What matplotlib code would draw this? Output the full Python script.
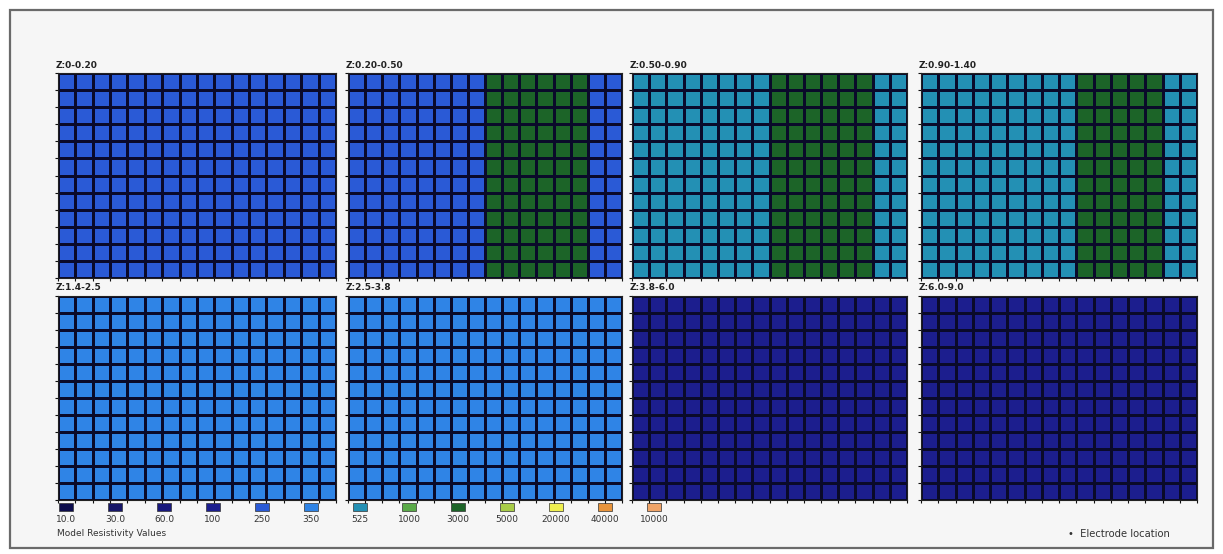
import numpy as np
import matplotlib
matplotlib.use("Agg")
import matplotlib.pyplot as plt
from matplotlib.colors import ListedColormap, BoundaryNorm
from matplotlib.patches import Rectangle

# ---- data ----
legend_labels = ["10.0", "30.0", "60.0", "100", "250", "350", "525",
                 "1000", "3000", "5000", "20000", "40000", "10000"]
legend_colors = ["#0c0c4c", "#161668", "#18187c", "#1c1e8e", "#2a5ad6", "#2f84e6",
                 "#2390b4", "#5aaa48", "#1c6428", "#a8cc48", "#f0f050", "#e8943c", "#f0a468"]

panel_titles = ["Z:0-0.20", "Z:0.20-0.50", "Z:0.50-0.90", "Z:0.90-1.40",
                "Z:1.4-2.5", "Z:2.5-3.8", "Z:3.8-6.0", "Z:6.0-9.0"]

n_rows = 12
# resistivity of each of the 16 columns, per depth slice
col_z1 = ["250"] * 16
col_z2 = ["250"] * 8 + ["3000"] * 6 + ["250"] * 2
col_z3 = ["525"] * 8 + ["3000"] * 6 + ["525"] * 2
col_z4 = ["525"] * 9 + ["3000"] * 5 + ["525"] * 2
col_z5 = ["350"] * 16
col_z6 = ["350"] * 16
col_z7 = ["100"] * 16
col_z8 = ["100"] * 16
panel_columns = [col_z1, col_z2, col_z3, col_z4, col_z5, col_z6, col_z7, col_z8]

# ---- figure ----
W, H = 1223, 554
fig = plt.figure(figsize=(W / 100, H / 100), dpi=100, facecolor="white")

# outer frame
fig.patches.append(Rectangle((10 / W, 1 - 548 / H), 1203 / W, 538 / H,
                             transform=fig.transFigure, facecolor="#f6f6f6",
                             edgecolor="#6a6a6a", linewidth=1.6, zorder=-5))

cmap = ListedColormap(legend_colors)
norm = BoundaryNorm(np.arange(-0.5, len(legend_colors) + 0.5), len(legend_colors))

xs = [(58, 336), (348, 622), (632, 907), (921, 1197)]
ys = [(73, 278), (296, 500)]

for k, cols in enumerate(panel_columns):
    r, c = divmod(k, 4)
    x0, x1 = xs[c]
    y0, y1 = ys[r]
    ax = fig.add_axes([x0 / W, 1 - y1 / H, (x1 - x0) / W, (y1 - y0) / H], zorder=2)
    idx = np.array([legend_labels.index(v) for v in cols])
    grid = np.tile(idx, (n_rows, 1))
    ax.pcolormesh(np.arange(len(cols) + 1), np.arange(n_rows + 1), grid,
                  cmap=cmap, norm=norm, edgecolors="#0a0a2a", linewidth=0.9)
    ax.set_xlim(0, len(cols))
    ax.set_ylim(0, n_rows)
    ax.set_xticks(np.arange(len(cols) + 1))
    ax.set_yticks(np.arange(n_rows + 1))
    ax.tick_params(length=2, width=0.8, color="#111111", labelbottom=False,
                   labelleft=False, direction="out")
    for s in ax.spines.values():
        s.set_color("#222222")
        s.set_linewidth(0.8)
    fig.text(x0 / W - 2 / W, 1 - (y0 - 8) / H, panel_titles[k], fontsize=6.5,
             color="#222222", ha="left", va="center", fontweight="bold")

# legend swatches
for i, (lab, col) in enumerate(zip(legend_labels, legend_colors)):
    cx = 66 + 49 * i
    fig.patches.append(Rectangle(((cx - 7) / W, 1 - 511 / H), 14 / W, 8 / H,
                                 transform=fig.transFigure, facecolor=col,
                                 edgecolor="#333333", linewidth=0.5))
    fig.text(cx / W, 1 - 520 / H, lab, fontsize=6.5, ha="center", va="center",
             color="#333333")
fig.text(57 / W, 1 - 533 / H, "Model Resistivity Values", fontsize=6.5,
         ha="left", va="center", color="#333333")

fig.text(1068 / W, 1 - 534 / H, "\u2022  Electrode location", fontsize=7.2,
         ha="left", va="center", color="#333333")

fig.savefig("out.png", dpi=100, facecolor="white")
